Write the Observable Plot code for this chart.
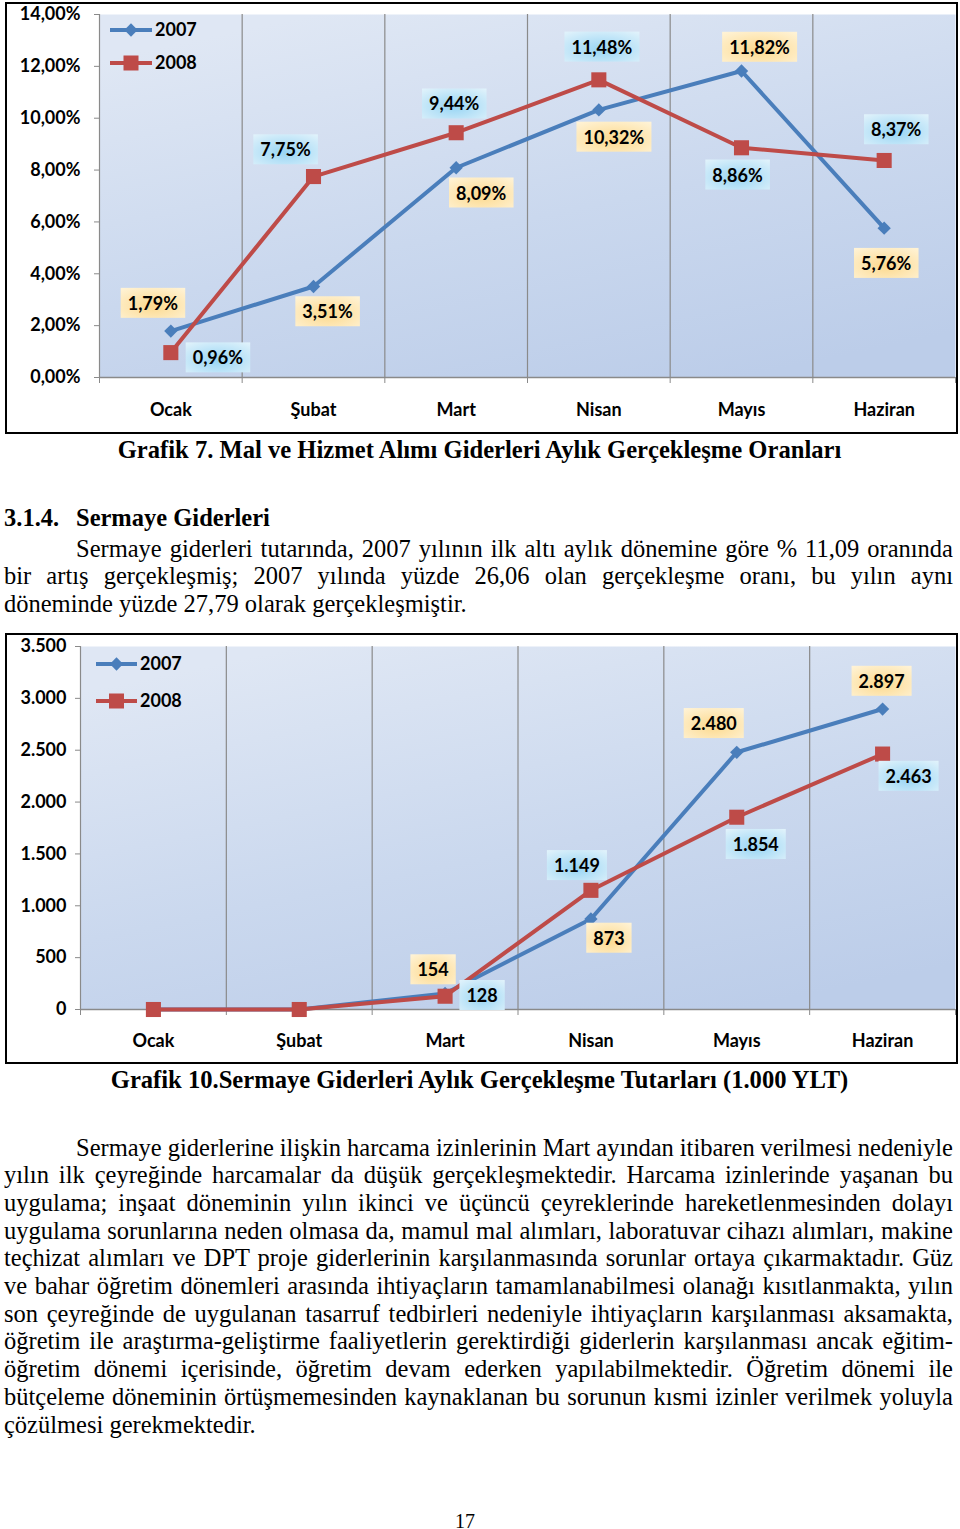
<!DOCTYPE html>
<html lang="tr"><head><meta charset="utf-8">
<script src="https://cdn.jsdelivr.net/npm/d3@7"></script>
<script src="https://cdn.jsdelivr.net/npm/@observablehq/plot@0.6"></script>
<style>
html,body{margin:0;padding:0;background:#fff;}
body{position:relative;width:960px;height:1529px;overflow:hidden;font-family:"Liberation Serif","Times New Roman",serif;color:#000;}
.chart{position:absolute;left:5px;border:2px solid #000;width:949px;background:#fff;}
.ln{position:absolute;left:4px;width:949px;height:28px;line-height:28px;font-size:24.5px;white-space:nowrap;}
.cap{position:absolute;left:0;width:959px;text-align:center;height:28px;line-height:28px;font-size:24.6px;font-weight:bold;white-space:nowrap;}
#legend{position:absolute;left:0;top:0;width:960px;height:1100px;pointer-events:none;}
</style></head>
<body>
<svg width="0" height="0" style="position:absolute">
  <defs>
    <linearGradient id="plotbg" x1="0.25" y1="0" x2="0.75" y2="1">
      <stop offset="0" stop-color="#dfe7f4"/>
      <stop offset="0.55" stop-color="#cad8ee"/>
      <stop offset="1" stop-color="#bccde9"/>
    </linearGradient>
    <radialGradient id="boxY" cx="0.5" cy="0.6" r="0.75">
      <stop offset="0" stop-color="#fcd98e"/>
      <stop offset="1" stop-color="#fff3d6"/>
    </radialGradient>
    <radialGradient id="boxB" cx="0.5" cy="0.6" r="0.75">
      <stop offset="0" stop-color="#98d5f4"/>
      <stop offset="1" stop-color="#e0f2fb"/>
    </radialGradient>
  </defs>
</svg>
<div id="c1" class="chart" style="top:2px;height:428px"></div>
<div id="c2" class="chart" style="top:633px;height:427px"></div>
<svg id="legend"></svg>
<div id="text"></div>
<script>
// ---------- DATA ----------
const months = ["Ocak", "Şubat", "Mart", "Nisan", "Mayıs", "Haziran"];
const seriesNames = ["2007", "2008"];

// Grafik 7: Mal ve Hizmet Alımı Giderleri Aylık Gerçekleşme Oranları (%)
const oran2007 = [1.79, 3.51, 8.09, 10.32, 11.82, 5.76];
const oran2008 = [0.96, 7.75, 9.44, 11.48, 8.86, 8.37];
const oranTicks = [0, 2, 4, 6, 8, 10, 12, 14];

// Grafik 10: Sermaye Giderleri Aylık Gerçekleşme Tutarları (1.000 YLT)
const tutar2007 = [0, 0, 154, 873, 2480, 2897];
const tutar2008 = [0, 0, 128, 1149, 1854, 2463];
const tutarTicks = [0, 500, 1000, 1500, 2000, 2500, 3000, 3500];

// label placement (pixel offsets of the data labels from their points; null = no label)
const oranLabelOffset2007 = [[-18, -27], [14, 26], [25, 26], [15, 28], [18, -23], [2, 36]];
const oranLabelOffset2008 = [[47, 6], [-28, -26], [-2, -28], [3, -32], [-4, 28], [12, -30]];
const tutarLabelOffset2007 = [null, null, [-12, -23], [18, 20], [-23, -28], [-1, -27]];
const tutarLabelOffset2008 = [null, null, [37, 0], [-14, -24], [19, 28], [26, 23]];

const BLUE = "#4a7ebb", RED = "#be4b48", GRID = "#8a8a8a";

const fmtPct = d => d.toFixed(2).replace(".", ",") + "%";
const fmtNum = d => d3.format(",")(d).replace(/,/g, ".");

function buildChart(o) {
  const n = months.length;
  const rows = months.map((m, i) => ({i, m, a: o.v7[i], b: o.v8[i]}));
  const bounds = d3.range(n + 1).map(i => i - 0.5);
  const inner = bounds.slice(1, -1);
  const labels = [], labelKeys = [];
  rows.forEach((r, i) => {
    if (o.off7[i]) {
      labels.push(Plot.text([r], {x: "i", y: "a", text: d => o.lbl(d.a), dx: o.off7[i][0], dy: o.off7[i][1], fontSize: 18, fontWeight: "bold", fill: "#000"}));
      labelKeys.push("url(#boxY)");
    }
    if (o.off8[i]) {
      labels.push(Plot.text([r], {x: "i", y: "b", text: d => o.lbl(d.b), dx: o.off8[i][0], dy: o.off8[i][1], fontSize: 18, fontWeight: "bold", fill: "#000"}));
      labelKeys.push("url(#boxB)");
    }
  });
  const svg = Plot.plot({
    width: o.width, height: o.height,
    marginLeft: o.ml, marginRight: o.mr, marginTop: o.mt, marginBottom: o.mb,
    x: {type: "linear", domain: [-0.5, n - 0.5], axis: null, label: null},
    y: {type: "linear", domain: o.yDomain, axis: null, label: null},
    style: {fontFamily: "Lato, 'Open Sans', sans-serif", fontSize: "18px", fontWeight: "bold", background: "white", overflow: "visible"},
    marks: [
      Plot.frame({fill: "url(#plotbg)", stroke: "none"}),
      Plot.ruleX(inner, {stroke: GRID, strokeWidth: 1.2}),
      Plot.ruleX([-0.5], {stroke: GRID, strokeWidth: 1.2}),
      Plot.ruleY([o.yDomain[0]], {stroke: GRID, strokeWidth: 1.5}),
      Plot.axisY({ticks: o.yTicks, tickSize: 5, tickPadding: o.ytp, tickFormat: o.yFmt, stroke: GRID, fill: "#000", label: null}),
      Plot.axisX({ticks: bounds, tickSize: 6, tickFormat: () => "", stroke: GRID, label: null}),
      Plot.axisX({ticks: d3.range(n), tickSize: 0, tickPadding: o.xtp, tickFormat: i => months[i], fill: "#000", label: null}),
      Plot.line(rows, {x: "i", y: "a", stroke: BLUE, strokeWidth: 4}),
      Plot.dot(rows, {x: "i", y: "a", symbol: "diamond2", r: 6, fill: BLUE, stroke: "none"}),
      Plot.line(rows, {x: "i", y: "b", stroke: RED, strokeWidth: 4}),
      Plot.dot(rows, {x: "i", y: "b", symbol: "square", r: 8.5, fill: RED, stroke: "none"}),
      ...labels
    ]
  });
  document.getElementById(o.el).appendChild(svg);
  const groups = Array.from(svg.querySelectorAll('g[aria-label="text"]'));
  groups.forEach((g, k) => {
    const grad = labelKeys[k];
    if (!grad) return;
    g.querySelectorAll("text").forEach(t => {
      const b = t.getBBox();
      const r = document.createElementNS("http://www.w3.org/2000/svg", "rect");
      r.setAttribute("x", b.x - 7);
      r.setAttribute("y", b.y - 4);
      r.setAttribute("width", b.width + 14);
      r.setAttribute("height", b.height + 8);
      if (t.getAttribute("transform")) r.setAttribute("transform", t.getAttribute("transform"));
      r.setAttribute("fill", grad);
      t.parentNode.insertBefore(r, t);
    });
  });
}

buildChart({el: "c1", width: 949, height: 428, ml: 92, mr: 1, mt: 10, mb: 55,
  v7: oran2007, v8: oran2008, yDomain: [0, 14], yTicks: oranTicks, yFmt: fmtPct, lbl: fmtPct,
  off7: oranLabelOffset2007, off8: oranLabelOffset2008, ytp: 14, xtp: 26});
buildChart({el: "c2", width: 949, height: 427, ml: 73, mr: 1, mt: 11, mb: 53,
  v7: tutar2007, v8: tutar2008, yDomain: [0, 3500], yTicks: tutarTicks, yFmt: fmtNum, lbl: fmtNum,
  off7: tutarLabelOffset2007, off8: tutarLabelOffset2008, ytp: 9, xtp: 25});

// ---------- LEGENDS ----------
const lg = d3.select("#legend");
function legend(x0, x1, ys) {
  const cx = (x0 + x1) / 2;
  [BLUE, RED].forEach((c, k) => {
    const y = ys[k];
    lg.append("line").attr("x1", x0).attr("x2", x1).attr("y1", y).attr("y2", y).attr("stroke", c).attr("stroke-width", 4);
    if (k === 0) lg.append("path").attr("d", d3.symbol(d3.symbolDiamond2, 113)()).attr("transform", `translate(${cx},${y})`).attr("fill", c);
    else lg.append("rect").attr("x", cx - 7.5).attr("y", y - 7.5).attr("width", 15).attr("height", 15).attr("fill", c);
    lg.append("text").attr("x", x1 + 3).attr("y", y).attr("dy", "0.35em").text(seriesNames[k])
      .attr("font-family", "Lato, sans-serif").attr("font-weight", "bold").attr("font-size", 18);
  });
}
legend(110, 152, [30, 63]);
legend(96, 137, [664, 701]);

// ---------- TEXT ----------
const heading = ["3.1.4.", "Sermaye Giderleri"];
const caption1 = "Grafik 7. Mal ve Hizmet Alımı Giderleri Aylık Gerçekleşme Oranları";
const caption2 = "Grafik 10.Sermaye Giderleri Aylık Gerçekleşme Tutarları (1.000 YLT)";
const para1 = [
  "Sermaye giderleri tutarında, 2007 yılının ilk altı aylık dönemine göre % 11,09 oranında",
  "bir artış gerçekleşmiş; 2007 yılında yüzde 26,06 olan gerçekleşme oranı, bu yılın aynı",
  "döneminde yüzde 27,79 olarak gerçekleşmiştir."
];
const para2 = [
  "Sermaye giderlerine ilişkin harcama izinlerinin Mart ayından itibaren verilmesi nedeniyle",
  "yılın ilk çeyreğinde harcamalar da düşük gerçekleşmektedir. Harcama izinlerinde yaşanan bu",
  "uygulama; inşaat döneminin yılın ikinci ve üçüncü çeyreklerinde hareketlenmesinden dolayı",
  "uygulama sorunlarına neden olmasa da, mamul mal alımları, laboratuvar cihazı alımları, makine",
  "teçhizat alımları ve DPT proje giderlerinin karşılanmasında sorunlar ortaya çıkarmaktadır. Güz",
  "ve bahar öğretim dönemleri arasında ihtiyaçların tamamlanabilmesi olanağı kısıtlanmakta, yılın",
  "son çeyreğinde de uygulanan tasarruf tedbirleri nedeniyle ihtiyaçların karşılanması aksamakta,",
  "öğretim ile araştırma-geliştirme faaliyetlerin gerektirdiği giderlerin karşılanması ancak eğitim-",
  "öğretim dönemi içerisinde, öğretim devam ederken yapılabilmektedir. Öğretim dönemi ile",
  "bütçeleme döneminin örtüşmemesinden kaynaklanan bu sorunun kısmi izinler verilmek yoluyla",
  "çözülmesi gerekmektedir."
];
const pageNo = "17";

const T = document.getElementById("text");
const BASE = 22.2; // baseline offset inside a 28px line box
function addDiv(cls, top, html, extra) {
  const d = document.createElement("div");
  d.className = cls;
  d.style.top = top + "px";
  if (extra) Object.assign(d.style, extra);
  d.innerHTML = html;
  T.appendChild(d);
  return d;
}
function para(lines, baseline0, step) {
  lines.forEach((s, k) => {
    const indent = k === 0 ? 72 : 0;
    const d = addDiv("ln", baseline0 + k * step - BASE, "", {paddingLeft: indent + "px", width: (949 - indent) + "px"});
    const sp = document.createElement("span");
    sp.textContent = s;
    d.appendChild(sp);
    if (k < lines.length - 1) {
      const w = sp.getBoundingClientRect().width;
      const spaces = (s.match(/ /g) || []).length;
      sp.style.wordSpacing = ((949 - indent - w) / spaces) + "px";
    }
  });
}
addDiv("cap", 457.7 - BASE, caption1);
addDiv("ln", 525.7 - BASE, `<b>${heading[0]}</b>`);
addDiv("ln", 525.7 - BASE, `<b>${heading[1]}</b>`, {left: "76px", width: "800px"});
para(para1, 556.7, 27.5);
addDiv("cap", 1087.7 - BASE, caption2);
para(para2, 1155.7, 27.7);
addDiv("cap", 1507, pageNo, {fontWeight: "normal", fontSize: "20px", left: "0px", width: "930px"});
</script>
</body></html>
